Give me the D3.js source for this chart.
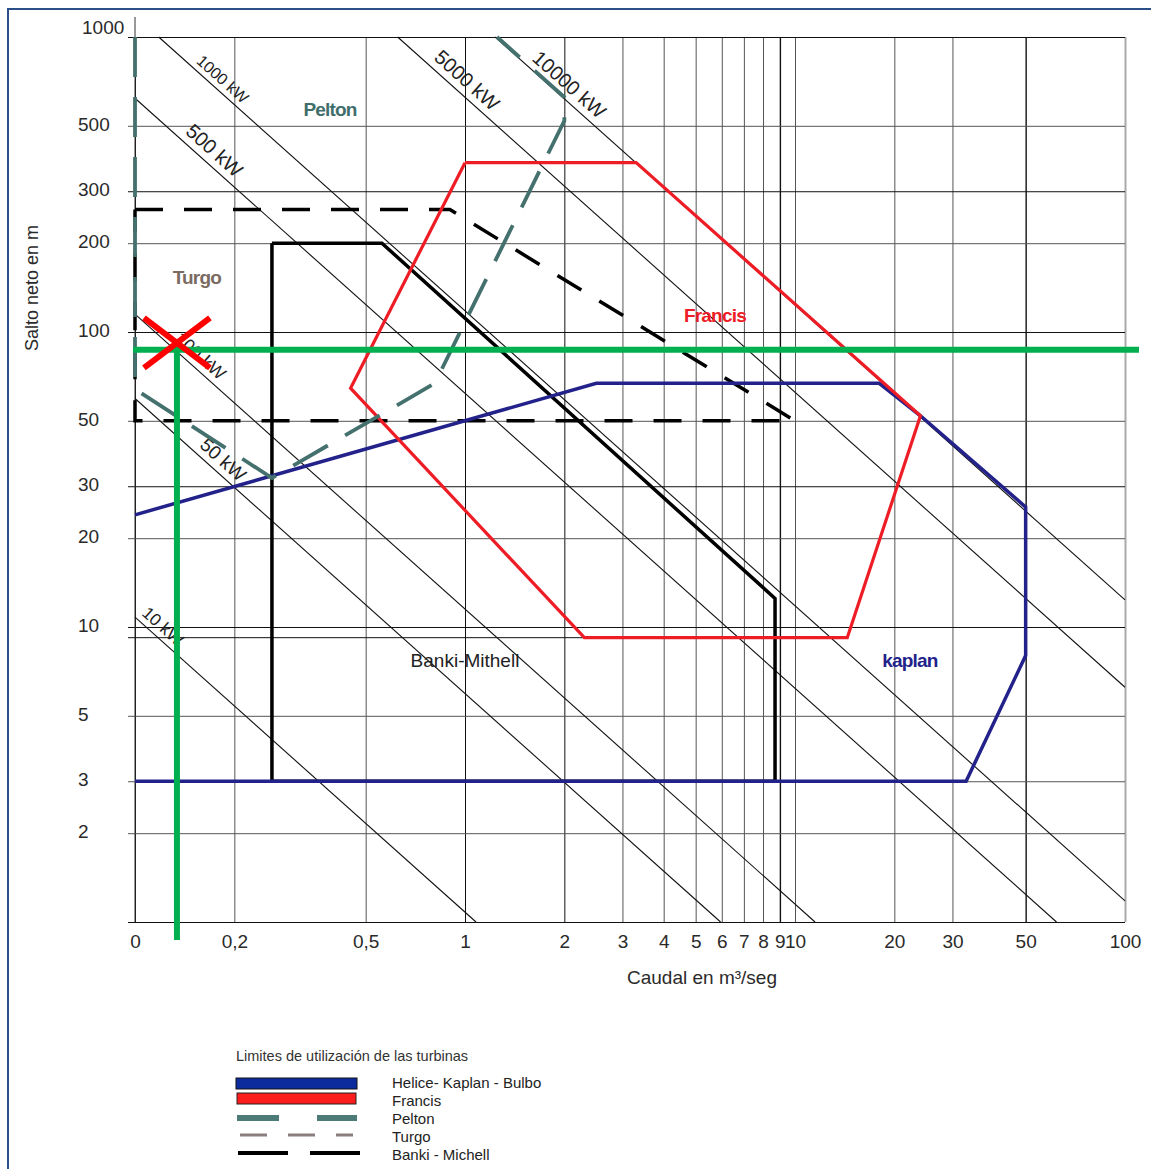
<!DOCTYPE html>
<html>
<head>
<meta charset="utf-8">
<script src="https://d3js.org/d3.v7.min.js"></script>
<style>
	body { margin: 0; background: #fff; }
	svg text { font-family: "Liberation Sans", Arial, sans-serif; }
</style>
</head>
<body>
<svg id="chart" width="1151" height="1169"></svg>
<script>
// Axis ticks (caudal m3/s, salto m)
var xTicks = [0.1, 0.2, 0.5, 1, 2, 3, 4, 5, 6, 7, 8, 9, 10, 20, 30, 50, 100];
var xTickLabels = ["0", "0,2", "0,5", "1", "2", "3", "4", "5", "6", "7", "8", "9", "10", "20", "30", "50", "100"];
var yTicks = [1, 2, 3, 5, 10, 20, 30, 50, 100, 200, 300, 500, 1000];
var yTickLabels = ["", "2", "3", "5", "10", "20", "30", "50", "100", "200", "300", "500", "1000"];

// Power lines: kW and the Q*H product
var powerKW = [10, 50, 100, 500, 1000, 5000, 10000];
var powerQH = [1.08, 5.95, 11.5, 62, 118, 625, 1235];
var powerLabelQ = [0.115, 0.174, 0.149, 0.163, 0.175, 0.95, 1.94];

// Turbine limits, [Q, H]
var kaplan = [[0.1, 24], [2.5, 67], [18, 67], [24, 52], [50, 25.5], [50, 8], [33, 3], [0.1, 3]];
var francis = [[1.0, 375], [3.3, 375], [24, 52], [14.4, 9.2], [2.3, 9.2], [0.45, 64.5], [1.0, 375]];
var pelton = [[0.1, 1000], [0.1, 64], [0.26, 32], [0.81, 67], [2, 520], [2, 625], [1.25, 1000]];
var turgo = [[0.1, 260], [0.9, 260], [10, 50], [0.1, 50], [0.1, 260]];
var banki = [[0.26, 200], [0.56, 200], [8.7, 12.5], [8.7, 3], [0.26, 3], [0.26, 200]];

// Operating point marked in green
var designQ = 0.134;
var designH = 87;

var legendNames = ["Helice- Kaplan - Bulbo", "Francis", "Pelton", "Turgo", "Banki - Michell"];

var svg = d3.select("#chart");

var x = d3.scaleLog().domain([0.1, 100]).range([135, 1125]);
var y = d3.scaleLog().domain([1, 1000]).range([922, 37]);

var line = d3.line()
		.x(function(d) { return x(d[0]); })
		.y(function(d) { return y(d[1]); });

// Frame
// ------------------------------
svg.append("path")
		.attr("d", "M8,1169 V9 H1151")
		.attr("fill", "none")
		.attr("stroke", "#2b5089")
		.attr("stroke-width", 2);

// Grid (through the axes)
// ------------------------------
var xDark = [0.1, 1, 2, 9, 50];
var yDark = [1, 10, 30, 100, 300, 1000];

var gx = svg.append("g")
		.attr("transform", "translate(0," + y(1) + ")")
		.call(d3.axisBottom(x)
				.tickValues(xTicks)
				.tickFormat(function(d, i) { return xTickLabels[i]; })
				.tickSize(-(y(1) - y(1000)))
				.tickPadding(13));
gx.select(".domain").remove();
gx.selectAll(".tick line")
		.attr("stroke", function(d) { return xDark.indexOf(d) >= 0 ? "#111" : "#555"; })
		.attr("stroke-width", function(d) { return d == 100 ? 2 : (d == 9 || d == 50 ? 1.4 : 1); })
		.attr("stroke-opacity", function(d) { return d == 100 ? 0.5 : 1; });
gx.selectAll(".tick text")
		.attr("fill", "#2a2a2a")
		.style("font-size", "19px");

var gy = svg.append("g")
		.attr("transform", "translate(128,0)")
		.call(d3.axisLeft(y)
				.tickValues(yTicks)
				.tickFormat(function(d, i) { return yTickLabels[i]; })
				.tickSize(-(x(100) - 128)));
gy.select(".domain").remove();
gy.selectAll(".tick line")
		.attr("stroke", function(d) { return yDark.indexOf(d) >= 0 ? "#111" : "#555"; });
gy.selectAll(".tick text")
		.attr("text-anchor", "start")
		.attr("x", -50)
		.attr("dy", function(d) { return d == 1000 ? "-0.2em" : "0.25em"; })
		.attr("dx", function(d) { return d == 1000 ? 4 : 0; })
		.attr("fill", "#2a2a2a")
		.style("font-size", "19px");

// left axis runs a bit above the top
svg.append("line")
		.attr("x1", x(0.1)).attr("x2", x(0.1))
		.attr("y1", 17).attr("y2", y(1))
		.attr("stroke", "#333");

// thin base line under Francis
svg.append("line")
		.attr("x1", 128).attr("x2", x(francis[4][0]))
		.attr("y1", y(francis[4][1])).attr("y2", y(francis[4][1]))
		.attr("stroke", "#111");

// Power lines
// ------------------------------
var angle = Math.atan2(y(1) - y(10), x(10) - x(1)) * 180 / Math.PI;
var labelSize = [17, 19, 18, 20, 16, 20, 20];

powerQH.forEach(function(c, i) {
	var q0 = Math.max(0.1, c / 1000),
			q1 = Math.min(100, c / 1);
	svg.append("path")
			.datum([[q0, c / q0], [q1, c / q1]])
			.attr("d", line)
			.attr("fill", "none")
			.attr("stroke", "#111")
			.attr("stroke-width", 1.1);

	var q = powerLabelQ[i];
	svg.append("text")
			.attr("transform", "translate(" + x(q) + "," + y(c / q) + ") rotate(" + angle + ")")
			.attr("text-anchor", "middle")
			.attr("dy", "-0.35em")
			.attr("fill", "#222")
			.style("font-size", labelSize[i] + "px")
			.text(powerKW[i] + " kW");
});

// Turbine ranges
// ------------------------------
svg.append("path")
		.datum(banki)
		.attr("d", line)
		.attr("fill", "none")
		.attr("stroke", "#000")
		.attr("stroke-width", 3.5)
		.attr("stroke-linejoin", "miter");

svg.append("path")
		.datum(turgo)
		.attr("d", line)
		.attr("fill", "none")
		.attr("stroke", "#000")
		.attr("stroke-width", 3.5)
		.attr("stroke-dasharray", "28 21");

svg.append("path")
		.datum(kaplan)
		.attr("d", line)
		.attr("fill", "none")
		.attr("stroke", "#22228a")
		.attr("stroke-width", 3.5);

svg.append("path")
		.datum(francis)
		.attr("d", line)
		.attr("fill", "none")
		.attr("stroke", "#ee1c25")
		.attr("stroke-width", 3.2);

svg.append("path")
		.datum(pelton)
		.attr("d", line)
		.attr("fill", "none")
		.attr("stroke", "#44716e")
		.attr("stroke-width", 3.8)
		.attr("stroke-dasharray", "40 20");

// Region names
// ------------------------------
var regionLabels = [
	{ text: "Pelton", q: 0.39, h: 540, color: "#3f6e6b", bold: true },
	{ text: "Turgo", q: 0.154, h: 145, color: "#7a6a62", bold: true },
	{ text: "Francis", q: 5.72, h: 108, color: "#ee1c25", bold: true },
	{ text: "kaplan", q: 22.3, h: 7.3, color: "#22228a", bold: true },
	{ text: "Banki-Mithell", q: 1.0, h: 7.3, color: "#222", bold: false }
];

svg.selectAll(".region")
		.data(regionLabels)
		.enter().append("text")
		.attr("class", "region")
		.attr("x", function(d) { return x(d.q); })
		.attr("y", function(d) { return y(d.h); })
		.attr("text-anchor", "middle")
		.attr("fill", function(d) { return d.color; })
		.style("font-size", "19px")
		.style("font-weight", function(d) { return d.bold ? "bold" : "normal"; })
		.style("letter-spacing", function(d) { return d.bold ? "-0.8px" : "0px"; })
		.text(function(d) { return d.text; });

// Axis titles
// ------------------------------
svg.append("text")
		.attr("x", 702)
		.attr("y", 984)
		.attr("text-anchor", "middle")
		.attr("fill", "#2a2a2a")
		.style("font-size", "19px")
		.text("Caudal en m³/seg");

svg.append("text")
		.attr("transform", "translate(38,288) rotate(-90)")
		.attr("text-anchor", "middle")
		.attr("fill", "#2a2a2a")
		.style("font-size", "18px")
		.text("Salto neto en m");

// Operating point
// ------------------------------
var px = x(designQ), py = y(designH);

svg.append("line")
		.attr("x1", x(0.1) - 2).attr("x2", x(100) + 14)
		.attr("y1", py).attr("y2", py)
		.attr("stroke", "#00b050")
		.attr("stroke-width", 6);

svg.append("line")
		.attr("x1", px).attr("x2", px)
		.attr("y1", py - 7).attr("y2", y(1) + 18)
		.attr("stroke", "#00b050")
		.attr("stroke-width", 6);

[[-1, -1], [-1, 1]].forEach(function(s) {
	svg.append("line")
			.attr("x1", px + s[0] * 33).attr("y1", py - 7 + s[1] * 25)
			.attr("x2", px - s[0] * 33).attr("y2", py - 7 - s[1] * 25)
			.attr("stroke", "#ff0000")
			.attr("stroke-width", 6);
});

// Legend
// ------------------------------
var legend = svg.append("g").attr("transform", "translate(236,1056)");

legend.append("text")
		.attr("x", 0).attr("y", 5)
		.attr("fill", "#333")
		.style("font-size", "14.5px")
		.text("Limites de utilización de las turbinas");

legend.append("rect")
		.attr("x", 0).attr("y", 22).attr("width", 121).attr("height", 11)
		.attr("fill", "#0c2c9e").attr("stroke", "#111").attr("stroke-width", 1);
legend.append("rect")
		.attr("x", 1).attr("y", 37).attr("width", 119).attr("height", 11)
		.attr("fill", "#ff1c1c").attr("stroke", "#222").attr("stroke-width", 1);
legend.append("line")
		.attr("x1", 1).attr("x2", 121).attr("y1", 62).attr("y2", 62)
		.attr("stroke", "#4c7a77").attr("stroke-width", 6).attr("stroke-dasharray", "42 38");
legend.append("line")
		.attr("x1", 4).attr("x2", 117).attr("y1", 79).attr("y2", 79)
		.attr("stroke", "#8a7e7e").attr("stroke-width", 3).attr("stroke-dasharray", "27 21");
legend.append("line")
		.attr("x1", 2).attr("x2", 124).attr("y1", 97).attr("y2", 97)
		.attr("stroke", "#000").attr("stroke-width", 4).attr("stroke-dasharray", "50 22");

legend.selectAll(".lname")
		.data(legendNames)
		.enter().append("text")
		.attr("class", "lname")
		.attr("x", 156)
		.attr("y", function(d, i) { return 27 + i * 18; })
		.attr("dy", "0.35em")
		.attr("fill", "#222")
		.style("font-size", "15px")
		.text(function(d) { return d; });
</script>
</body>
</html>
